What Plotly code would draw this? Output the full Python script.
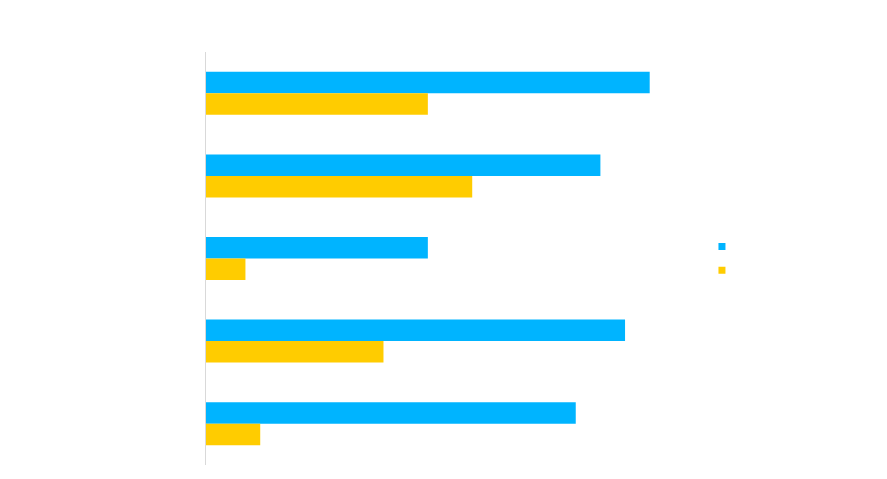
import plotly.graph_objects as go

categories = ["A", "B", "C", "D", "E"]
series1_values = [90, 80, 45, 85, 75]
series2_values = [45, 54, 8, 36, 11]
series_names = ["", ""]
colors = ["#00B4FF", "#FFCC00"]

fig = go.Figure()
for vals, name, col in zip([series1_values, series2_values], series_names, colors):
    fig.add_trace(go.Bar(y=categories, x=vals, orientation="h", name=name,
                         marker=dict(color=col, line=dict(width=0)), showlegend=False))
for name, col in zip(series_names, colors):
    fig.add_trace(go.Scatter(x=[None], y=[None], mode="markers", name=name,
                             marker=dict(symbol="square", size=7, color=col)))

fig.update_layout(
    width=887, height=479,
    margin=dict(l=198, r=196, t=44, b=22),
    paper_bgcolor="white", plot_bgcolor="white",
    barmode="group", bargap=0.48, bargroupgap=0,
    showlegend=True,
    legend=dict(x=1.006, xanchor="left", y=0.5, yanchor="middle",
                font=dict(size=16, color="white"), itemwidth=30),
    xaxis=dict(range=[0, 100], showgrid=False, zeroline=False, showticklabels=False,
               showline=False, ticks=""),
    yaxis=dict(autorange="reversed", showgrid=False, zeroline=False, showticklabels=False,
               showline=True, linecolor="#d9d9d9", linewidth=1, ticks=""),
)
fig.write_html("out.html")
